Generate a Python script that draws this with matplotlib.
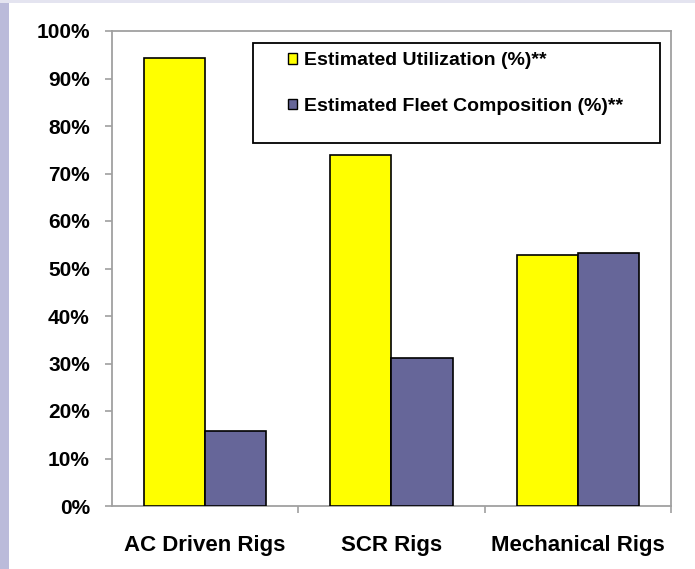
import matplotlib
matplotlib.use("Agg")
import matplotlib.pyplot as plt
from matplotlib.patches import Rectangle, Patch
from matplotlib.ticker import FuncFormatter, MultipleLocator, FixedLocator
import numpy as np

categories = ["AC Driven Rigs", "SCR Rigs", "Mechanical Rigs"]
utilization = [94.3, 74.0, 52.9]
fleet_composition = [15.8, 31.1, 53.3]
series_labels = ["Estimated Utilization (%)**", "Estimated Fleet Composition (%)**"]
series_colors = ["#FFFF00", "#666699"]

plt.rcParams["font.family"] = ["Liberation Sans", "DejaVu Sans"]
plt.rcParams["font.weight"] = "bold"

fig = plt.figure(figsize=(6.95, 5.69), dpi=100)
fig.patch.set_facecolor("white")
# slide-style accent strip at the left edge
fig.patches.append(Rectangle((0, 0), 9 / 695, 1, transform=fig.transFigure,
                             facecolor="#BBBBDA", edgecolor="none", zorder=0))
fig.patches.append(Rectangle((0, 1 - 3 / 569), 1, 3 / 569, transform=fig.transFigure,
                             facecolor="#E4E4F0", edgecolor="none", zorder=0))

ax = fig.add_axes([112 / 695, 1 - 506 / 569, (671 - 112) / 695, (506 - 31) / 569])

x = np.arange(len(categories))
w = 0.328
ax.bar(x - w / 2, utilization, width=w, color=series_colors[0],
       edgecolor="black", linewidth=1.2, zorder=3)
ax.bar(x + w / 2, fleet_composition, width=w, color=series_colors[1],
       edgecolor="black", linewidth=1.2, zorder=3)

ax.set_xlim(-0.5, len(categories) - 0.5)
ax.set_ylim(0, 100)
ax.yaxis.set_major_locator(MultipleLocator(10))
ax.yaxis.set_major_formatter(FuncFormatter(lambda v, _: f"{v:.0f}%"))

ax.set_xticks(x)
ax.set_xticklabels(categories, fontsize=16, fontweight="bold")
ax.xaxis.set_minor_locator(FixedLocator([0.5, 1.5, 2.5]))
ax.tick_params(axis="x", which="major", length=0, pad=21)
ax.tick_params(axis="x", which="minor", length=5, width=1.2, color="#A0A0A0")
ax.tick_params(axis="y", length=5, width=1.2, color="#A0A0A0", pad=11,
               labelsize=15)
for lbl in ax.get_yticklabels():
    lbl.set_fontweight("bold")

for s in ax.spines.values():
    s.set_color("#A0A0A0")
    s.set_linewidth(1.3)

# legend box
box_x0 = (253 - 112) / (671 - 112)
box_x1 = (660 - 112) / (671 - 112)
box_y0 = (506 - 143) / (506 - 31)
box_y1 = (506 - 43) / (506 - 31)
ax.add_patch(Rectangle((box_x0, box_y0), box_x1 - box_x0, box_y1 - box_y0,
                       transform=ax.transAxes, facecolor="white",
                       edgecolor="black", linewidth=1.3, zorder=5))
handles = [Patch(facecolor=c, edgecolor="black", linewidth=1.0) for c in series_colors]
leg = ax.legend(handles, series_labels, loc="upper left",
                bbox_to_anchor=((271 - 112) / (671 - 112), (506 - 35) / (506 - 31)),
                frameon=False, prop={"weight": "bold", "size": 14},
                handlelength=0.45, handleheight=0.45, handletextpad=0.35,
                labelspacing=1.45, borderpad=0.4)
leg.set_zorder(6)

fig.savefig("out.png", dpi=100)
